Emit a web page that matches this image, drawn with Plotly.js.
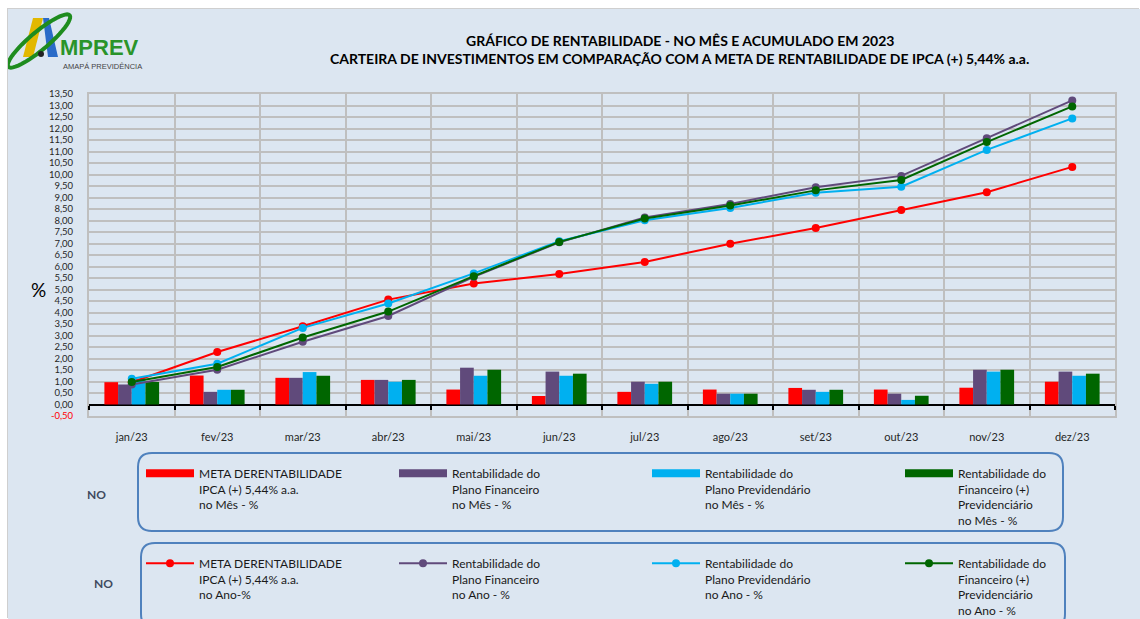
<!DOCTYPE html>
<html>
<head>
<meta charset="utf-8">
<script src="https://cdn.plot.ly/plotly-3.0.1.min.js"></script>
<style>
  html, body { margin: 0; padding: 0; background: #ffffff; overflow: hidden; }
  #chart { position: absolute; left: 8px; top: 9px; width: 1132px; height: 610px; box-shadow: -1px -1px 0 #cfcfcf; }
</style>
</head>
<body>
<div id="chart"></div>
<script>
// ---------- DATA ----------
const months = ['jan/23','fev/23','mar/23','abr/23','mai/23','jun/23','jul/23','ago/23','set/23','out/23','nov/23','dez/23'];

// monthly returns (%) - bars
const metaMes = [0.97, 1.26, 1.16, 1.07, 0.65, 0.37, 0.55, 0.65, 0.72, 0.65, 0.73, 0.99];
const finMes  = [0.87, 0.55, 1.16, 1.07, 1.60, 1.43, 0.99, 0.47, 0.64, 0.47, 1.51, 1.43];
const prevMes = [1.12, 0.64, 1.41, 0.99, 1.25, 1.25, 0.90, 0.47, 0.55, 0.20, 1.43, 1.25];
const consMes = [0.98, 0.64, 1.25, 1.07, 1.51, 1.34, 0.99, 0.47, 0.64, 0.38, 1.51, 1.34];

// accumulated returns (%) - lines
const metaAno = [0.97, 2.28, 3.40, 4.56, 5.26, 5.67, 6.20, 6.99, 7.67, 8.46, 9.23, 10.33];
const finAno  = [0.87, 1.51, 2.73, 3.85, 5.55, 7.05, 8.13, 8.72, 9.45, 9.94, 11.58, 13.22];
const prevAno = [1.12, 1.77, 3.33, 4.39, 5.70, 7.10, 8.01, 8.54, 9.21, 9.47, 11.07, 12.44];
const consAno = [0.98, 1.63, 2.91, 4.04, 5.58, 7.07, 8.09, 8.65, 9.31, 9.76, 11.41, 12.96];

const yTickVals = [-0.5,0,0.5,1,1.5,2,2.5,3,3.5,4,4.5,5,5.5,6,6.5,7,7.5,8,8.5,9,9.5,10,10.5,11,11.5,12,12.5,13,13.5];
const yTickLabels = ['-0,50','0,00','0,50','1,00','1,50','2,00','2,50','3,00','3,50','4,00','4,50','5,00','5,50','6,00','6,50','7,00','7,50','8,00','8,50','9,00','9,50','10,00','10,50','11,00','11,50','12,00','12,50','13,00','13,50'];

const legMes = [
  'META DERENTABILIDADE<br>IPCA (+) 5,44% a.a.<br>no Mês - %',
  'Rentabilidade do<br>Plano Financeiro<br>no Mês - %',
  'Rentabilidade do<br>Plano Previdendário<br>no Mês - %',
  'Rentabilidade do<br>Financeiro (+)<br>Previdenciário<br>no Mês - %'
];
const legAno = [
  'META DERENTABILIDADE<br>IPCA (+) 5,44% a.a.<br>no Ano-%',
  'Rentabilidade do<br>Plano Financeiro<br>no Ano - %',
  'Rentabilidade do<br>Plano Previdendário<br>no Ano - %',
  'Rentabilidade do<br>Financeiro (+)<br>Previdenciário<br>no Ano - %'
];
const titleLine1 = 'GRÁFICO DE RENTABILIDADE - NO MÊS E ACUMULADO EM 2023';
const titleLine2 = 'CARTEIRA DE INVESTIMENTOS EM COMPARAÇÃO COM A META DE RENTABILIDADE DE IPCA (+) 5,44% a.a.';

// ---------- STYLE ----------
const colors = ['#FF0000', '#604A7B', '#00B0F0', '#006600'];
const FONT = 'Lato, "Liberation Sans", sans-serif';
const BG = '#DCE6F1';
const GRID = '#BFBFBF';

// page pixel -> paper coordinates helpers (plot area: x 89..1115, y 94..416 in page px)
const px2x = px => (px - 89) / 1026;
const py2y = py => (416 - py) / 322;

const mesSeries = [metaMes, finMes, prevMes, consMes];
const anoSeries = [metaAno, finAno, prevAno, consAno];

const traces = [];
mesSeries.forEach((vals, i) => {
  traces.push({
    type: 'bar', x: months, y: vals, name: legMes[i],
    marker: { color: colors[i], line: { width: 0 } },
    showlegend: false, legendgroup: 'mes' + i, hoverinfo: 'y'
  });
});
// legend swatches for bars (wide rectangles as in original); live on the zero-line tick axis
mesSeries.forEach((vals, i) => {
  traces.push({
    type: 'scatter', mode: 'lines', x: [null], y: [null], xaxis: 'x2', name: legMes[i],
    line: { color: colors[i], width: 8 }, legend: 'legend', legendgroup: 'mes' + i, hoverinfo: 'skip'
  });
});
anoSeries.forEach((vals, i) => {
  traces.push({
    type: 'scatter', mode: 'lines+markers', x: months, y: vals, name: legAno[i],
    line: { color: colors[i], width: 2 }, marker: { color: colors[i], size: 8 },
    legend: 'legend2', hoverinfo: 'y'
  });
});

// rounded box path helper in paper coords
function roundBox(l, t, r, b, rad) {
  const x = px2x, y = py2y;
  return 'M' + x(l + rad) + ',' + y(t) +
    ' L' + x(r - rad) + ',' + y(t) +
    ' Q' + x(r) + ',' + y(t) + ' ' + x(r) + ',' + y(t + rad) +
    ' L' + x(r) + ',' + y(b - rad) +
    ' Q' + x(r) + ',' + y(b) + ' ' + x(r - rad) + ',' + y(b) +
    ' L' + x(l + rad) + ',' + y(b) +
    ' Q' + x(l) + ',' + y(b) + ' ' + x(l) + ',' + y(b - rad) +
    ' L' + x(l) + ',' + y(t + rad) +
    ' Q' + x(l) + ',' + y(t) + ' ' + x(l + rad) + ',' + y(t) + ' Z';
}
function polyPath(pts) {
  return pts.map((p, k) => (k ? 'L' : 'M') + px2x(p[0]) + ',' + py2y(p[1])).join(' ') + ' Z';
}
function ellipsePath(cx, cy, a, b, angDeg) {
  const th = angDeg * Math.PI / 180;
  const ux = Math.cos(th), uy = -Math.sin(th), vx = Math.sin(th), vy = Math.cos(th);
  const pts = [];
  for (let k = 0; k < 48; k++) {
    const t = k / 48 * 2 * Math.PI;
    pts.push([cx + a * Math.cos(t) * ux + b * Math.sin(t) * vx, cy + a * Math.cos(t) * uy + b * Math.sin(t) * vy]);
  }
  return polyPath(pts);
}

const shapes = [
  { type: 'path', xref: 'paper', yref: 'paper', path: roundBox(138, 453, 1063, 531, 14), line: { color: '#4F81BD', width: 2 } },
  { type: 'path', xref: 'paper', yref: 'paper', path: roundBox(141, 543, 1065, 628, 14), line: { color: '#4F81BD', width: 2 } },
  // logo
  { type: 'path', xref: 'paper', yref: 'paper', path: polyPath([[33,18],[43,18],[33,57],[23,57]]), fillcolor: '#E2B800', line: { width: 0 } },
  { type: 'path', xref: 'paper', yref: 'paper', path: polyPath([[43,18],[49,18],[58,57],[48,57]]), fillcolor: '#2A6BC8', line: { width: 0 } },
  { type: 'path', xref: 'paper', yref: 'paper', path: ellipsePath(39, 41, 40, 9, 40), line: { color: '#1E8C1E', width: 4 } },
  { type: 'circle', xref: 'paper', yref: 'paper', x0: px2x(38), x1: px2x(44), y0: py2y(51), y1: py2y(57), fillcolor: '#222', line: { width: 0 } }
];

const annotations = [
  { text: '<b>' + titleLine1 + '</b>', x: px2x(680), y: py2y(41), xref: 'paper', yref: 'paper', xanchor: 'center', yanchor: 'middle', showarrow: false, font: { family: FONT, size: 14, color: '#000' } },
  { text: '<b>' + titleLine2 + '</b>', x: px2x(679), y: py2y(58), xref: 'paper', yref: 'paper', xanchor: 'center', yanchor: 'middle', showarrow: false, font: { family: FONT, size: 14, color: '#000' } },
  { text: '%', x: px2x(38), y: py2y(289), xref: 'paper', yref: 'paper', xanchor: 'center', yanchor: 'middle', showarrow: false, font: { family: FONT, size: 19, color: '#000' } },
  { text: '<b>NO</b>', x: px2x(96), y: py2y(494), xref: 'paper', yref: 'paper', xanchor: 'center', yanchor: 'middle', showarrow: false, font: { family: FONT, size: 12, color: '#3F4A5E' } },
  { text: '<b>NO</b>', x: px2x(103), y: py2y(583), xref: 'paper', yref: 'paper', xanchor: 'center', yanchor: 'middle', showarrow: false, font: { family: FONT, size: 12, color: '#3F4A5E' } },
  { text: '<b>MPREV</b>', x: px2x(58), y: py2y(62), xref: 'paper', yref: 'paper', xanchor: 'left', yanchor: 'bottom', showarrow: false, font: { family: '"Liberation Sans", sans-serif', size: 22, color: '#2A942A' } },
  { text: 'AMAPÁ PREVIDÊNCIA', x: px2x(61), y: py2y(60), xref: 'paper', yref: 'paper', xanchor: 'left', yanchor: 'top', showarrow: false, font: { family: '"Liberation Sans", sans-serif', size: 7.5, color: '#444' } }
];

const legendBase = {
  orientation: 'h', xanchor: 'left', yanchor: 'top',
  entrywidth: 190, entrywidthmode: 'pixels', itemwidth: 48, valign: 'top',
  bgcolor: 'rgba(0,0,0,0)', borderwidth: 0, traceorder: 'normal',
  font: { family: FONT, size: 12, color: '#1a1a1a' }, itemclick: false, itemdoubleclick: false
};

const layout = {
  width: 1132, height: 610,
  margin: { l: 81, r: 25, t: 85, b: 203, pad: 0, autoexpand: false },
  paper_bgcolor: BG, plot_bgcolor: BG,
  font: { family: FONT, color: '#222' },
  barmode: 'group', bargap: 0.36, bargroupgap: 0,
  xaxis: {
    type: 'category', categoryorder: 'array', categoryarray: months, range: [-0.5, 11.5],
    tickson: 'boundaries', showgrid: true, gridcolor: GRID, gridwidth: 2,
    showline: true, linecolor: GRID, linewidth: 2, mirror: true,
    ticks: '', ticklabelstandoff: 10,
    tickfont: { family: FONT, size: 11, color: '#262626' }, fixedrange: true
  },
  xaxis2: {
    type: 'category', categoryorder: 'array', categoryarray: months, range: [-0.5, 11.5],
    overlaying: 'x', anchor: 'free', position: 0.5 / 14, side: 'bottom',
    tickson: 'boundaries', ticks: 'outside', ticklen: 4, tickwidth: 2, tickcolor: '#000',
    showticklabels: false, showgrid: false, zeroline: false, showline: false, fixedrange: true
  },
  yaxis: {
    range: [-0.5, 13.5], tickvals: yTickVals,
    ticktext: yTickLabels.map(t => t === '-0,50' ? '<span style="fill:#FF0000">' + t + '</span>' : t),
    showgrid: true, gridcolor: GRID, gridwidth: 2,
    showline: true, linecolor: GRID, linewidth: 2, mirror: true,
    zeroline: true, zerolinecolor: '#000', zerolinewidth: 2,
    ticks: '', ticklabelstandoff: 12,
    tickfont: { family: FONT, size: 9.5, color: '#262626' }, fixedrange: true
  },
  legend: Object.assign({}, legendBase, { x: px2x(141), y: py2y(459) }),
  legend2: Object.assign({}, legendBase, { x: px2x(141), y: py2y(549) }),
  shapes: shapes,
  annotations: annotations,
  showlegend: true
};

Plotly.newPlot('chart', traces, layout, { displayModeBar: false, staticPlot: false });
</script>
</body>
</html>
